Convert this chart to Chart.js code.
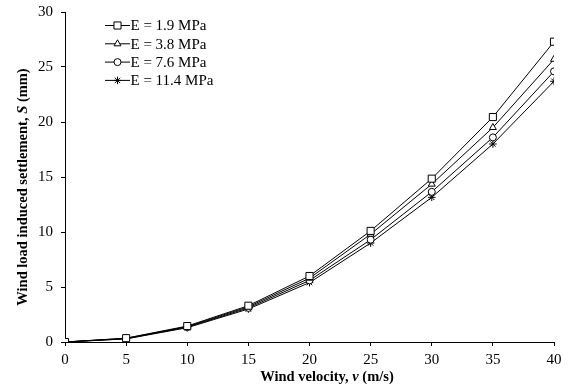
<!DOCTYPE html>
<html>
<head>
    <title>Wind load induced settlement</title>
    <script src="https://cdn.jsdelivr.net/npm/chart.js"></script>
    <style>
        html, body { margin: 0; padding: 0; background: #fff; }
        #wrap { width: 568px; height: 390px; }
    </style>
</head>
<body>
    <div id="wrap"><canvas id="chart"></canvas></div>

    <script>
        // Values
        const velocities = [0, 5, 10, 15, 20, 25, 30, 35, 40];
        const seriesLabels = ['E = 1.9 MPa', 'E = 3.8 MPa', 'E = 7.6 MPa', 'E = 11.4 MPa'];
        const settleE19 = [0, 0.35, 1.45, 3.3, 6.0, 10.1, 14.85, 20.45, 27.3];
        const settleE38 = [0, 0.33, 1.4, 3.2, 5.8, 9.8, 14.35, 19.5, 25.7];
        const settleE76 = [0, 0.3, 1.35, 3.1, 5.6, 9.3, 13.65, 18.6, 24.6];
        const settleE114 = [0, 0.28, 1.3, 3.0, 5.4, 9.0, 13.15, 18.0, 23.7];

        const serif = "'Liberation Serif', 'Times New Roman', serif";
        const markers = [
            { style: 'rect', radius: 5 },
            { style: 'triangle', radius: 4 },
            { style: 'circle', radius: 3.5 },
            { style: 'star', radius: 3.8 }
        ];
        const allSeries = [settleE19, settleE38, settleE76, settleE114];

        const datasets = allSeries.map((vals, i) => ({
            label: seriesLabels[i],
            data: vals.map((v, j) => ({ x: velocities[j], y: v })),
            borderColor: '#000',
            borderWidth: 1,
            backgroundColor: '#fff',
            pointStyle: markers[i].style,
            pointRadius: markers[i].radius,
            pointBackgroundColor: '#fff',
            pointBorderColor: '#000',
            pointBorderWidth: 1,
            tension: 0
        }));

        // draw a run of text pieces with different font styles
        function drawPieces(ctx, pieces, cx, cy, size) {
            let total = 0;
            pieces.forEach(p => { ctx.font = p[1] + ' ' + size + 'px ' + serif; total += ctx.measureText(p[0]).width; });
            let x = cx - total / 2;
            ctx.textAlign = 'left';
            ctx.textBaseline = 'middle';
            pieces.forEach(p => {
                ctx.font = p[1] + ' ' + size + 'px ' + serif;
                ctx.fillText(p[0], x, cy);
                x += ctx.measureText(p[0]).width;
            });
        }

        const extras = {
            id: 'extras',
            afterDraw(chart) {
                const ctx = chart.ctx;
                ctx.save();
                ctx.fillStyle = '#000';
                drawPieces(ctx, [['Wind velocity, ', 'bold'], ['v', 'italic bold'], [' (m/s)', 'bold']], 327, 377, 14.5);
                ctx.save();
                ctx.translate(23, 187);
                ctx.rotate(-Math.PI / 2);
                drawPieces(ctx, [['Wind load induced settlement, ', 'bold'], ['S', 'italic bold'], [' (mm)', 'bold']], 0, 0, 14.5);
                ctx.restore();

                // legend in the upper left of the plot
                seriesLabels.forEach((lab, i) => {
                    const y = 25.5 + i * 18.3;
                    ctx.strokeStyle = '#000';
                    ctx.lineWidth = 1;
                    ctx.beginPath();
                    ctx.moveTo(105, y);
                    ctx.lineTo(130, y);
                    ctx.stroke();
                    ctx.fillStyle = '#fff';
                    if (Chart.helpers && Chart.helpers.drawPoint) {
                        Chart.helpers.drawPoint(ctx, { pointStyle: markers[i].style, radius: markers[i].radius, rotation: 0, borderWidth: 1 }, 117.5, y);
                    }
                    ctx.fillStyle = '#000';
                    ctx.font = '15px ' + serif;
                    ctx.textAlign = 'left';
                    ctx.textBaseline = 'middle';
                    ctx.fillText(lab, 130.5, y + 1);
                });
                ctx.restore();
            }
        };

        new Chart(document.getElementById('chart'), {
            type: 'line',
            data: { datasets: datasets },
            options: {
                responsive: true,
                maintainAspectRatio: false,
                animation: false,
                layout: { padding: { top: 12, right: 14, left: 0, bottom: 0 } },
                plugins: {
                    legend: { display: false },
                    tooltip: { enabled: false }
                },
                scales: {
                    x: {
                        type: 'linear',
                        min: 0,
                        max: 40,
                        ticks: { stepSize: 5, color: '#000', font: { family: serif, size: 15 }, padding: 5, maxRotation: 0 },
                        grid: { drawOnChartArea: false, drawTicks: true, tickLength: 4, color: '#000' },
                        border: { color: '#000', width: 1 },
                        afterFit: s => { s.height = 48; s.paddingLeft = 0; s.paddingRight = 0; }
                    },
                    y: {
                        min: 0,
                        max: 30,
                        ticks: { stepSize: 5, color: '#000', font: { family: serif, size: 15 }, padding: 8 },
                        grid: { drawOnChartArea: false, drawTicks: true, tickLength: 4, color: '#000' },
                        border: { color: '#000', width: 1 },
                        afterFit: s => { s.width = 65; s.paddingTop = 0; s.paddingBottom = 0; }
                    }
                }
            },
            plugins: [extras]
        });
    </script>
</body>
</html>
